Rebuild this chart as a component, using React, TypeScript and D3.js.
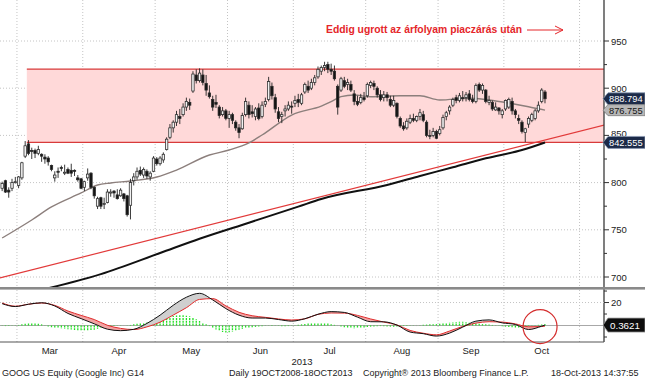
import React from "react";
import * as d3 from "d3";

const W = 645;
const H = 380;

// ---- axis / category data ----
const months = ["Mar", "Apr", "May", "Jun", "Jul", "Aug", "Sep", "Oct"];
// trading-day index of the first session of each month (last = Nov)
const monthStart = [5, 25, 47, 69, 89, 111, 133, 153, 176];
const priceTicks = [700, 750, 800, 850, 900, 950];
const priceMinorTicks = [725, 775, 825, 875, 925];
const macdTicks = [20];
const macdMinorTicks = [30, 10, 0, -10];
const yearLabel = "2013";

// ---- daily OHLC, 22-Feb-2013 .. 17-Oct-2013 ----
const opens = [794,802,792,794,801,797,805,828,841,834,834,831,830,827,826,818,805,812,816,811,814,813,813,805,804,795,805,810,795,775,784,777,779,789,791,787,786,788,786,776,802,806,813,808,812,806,812,825,820,824,835,848,858,864,870,872,880,885,897,914,908,914,905,895,888,885,880,872,876,868,872,864,858,857,872,882,875,870,879,870,883,888,902,890,875,870,876,878,881,884,888,884,896,902,900,906,912,918,922,925,920,918,902,898,908,904,904,894,886,885,890,892,903,905,900,893,890,893,888,882,884,868,860,858,864,868,866,870,872,864,850,850,854,852,858,870,876,882,890,887,890,890,894,888,886,904,898,898,885,885,877,879,872,878,880,886,876,868,864,853,862,866,868,876,886,896];
const highs = [801,803,795,804,806,807,822,844,845,837,836,839,831,830,828,819,812,816,818,819,816,820,814,808,805,802,815,811,796,785,785,784,793,793,792,793,794,789,787,804,810,816,817,816,814,812,828,827,828,832,848,862,866,876,878,884,890,889,918,920,921,920,914,903,892,893,882,880,878,876,874,866,862,874,890,886,882,880,884,886,890,912,906,894,880,875,882,886,886,892,894,895,906,908,910,914,923,924,928,928,926,924,904,912,912,910,908,898,892,894,896,906,908,908,902,898,897,896,892,892,885,870,864,868,872,873,871,878,876,866,856,858,856,860,872,876,882,890,893,895,897,896,898,893,905,906,905,899,892,887,885,880,878,888,890,890,878,872,866,858,870,874,878,886,900,898];
const lows = [791,789,784,791,799,794,803,826,829,825,826,829,822,820,818,812,801,805,812,808,809,806,807,801,793,791,802,793,783,772,772,772,778,785,784,782,785,780,764,761,797,803,807,805,804,802,811,818,818,821,834,846,853,860,862,870,876,877,895,905,906,903,892,889,876,879,868,870,866,858,862,855,847,856,870,868,869,866,866,868,880,886,888,874,864,863,870,876,873,880,880,882,894,895,898,903,910,914,918,916,914,908,872,896,900,898,896,882,881,883,886,890,900,898,890,886,886,886,880,880,868,858,855,856,862,864,864,866,864,848,846,848,846,850,856,866,872,880,884,885,886,886,886,884,884,896,894,884,882,876,876,872,868,876,878,872,868,862,852,843,858,864,866,874,884,884];
const closes = [799,790,790,800,801,806,821,839,831,833,831,835,828,825,822,814,808,811,815,811,810,810,812,803,794,801,809,795,786,783,775,778,790,790,789,783,792,783,766,800,806,812,809,814,807,810,826,820,826,830,846,858,864,872,868,880,886,882,915,908,916,906,898,891,880,883,871,876,868,872,866,858,853,871,886,872,873,878,868,882,886,907,892,878,868,872,878,882,880,887,885,893,904,898,906,911,920,922,924,920,918,910,880,910,902,906,898,886,883,890,888,904,906,902,893,888,893,890,882,887,870,860,857,865,868,866,870,874,866,850,849,854,847,856,869,874,880,888,887,892,889,893,888,886,903,898,903,886,887,878,880,876,876,887,888,876,872,866,854,857,868,872,876,882,898,888.794];

// ---- moving averages (day index, value) ----
const ma50Idx = [0, 9, 15, 24, 29, 33, 39, 47, 53, 63, 69, 75, 79, 88, 97, 100, 103, 107, 112, 121, 127, 133, 142, 148, 154, 160, 165];
const ma50 = [741.3, 760.4, 774.2, 789, 797.5, 799.6, 801.7, 805.9, 813.3, 829.2, 834.5, 842, 850.4, 871.6, 881.1, 885.7, 891, 892.8, 891, 892, 892, 887.5, 889.3, 887.5, 884.3, 880.4, 876.755];
const ma200Idx = [14, 30, 48, 60, 75, 90, 97, 117, 127, 137, 147, 158, 165];
const ma200 = [688, 703, 725.4, 740.5, 757.5, 774.5, 782.6, 797.5, 807, 816.2, 825.7, 834.5, 842.555];

// ---- drawn trendline and channel ----
const trendIdx = [-0.65, 183];
const trendVals = [699, 861];
const channelStartIdx = 8;
const channelTop = 920.3;
const channelBottom = 842.555;

// ---- MACD panel ----
const macdIdx = [0,4,8,12,16,20,24,28,32,36,40,44,48,52,56,60,64,68,72,76,80,84,88,92,96,100,104,108,112,116,120,124,128,132,136,140,144,148,152,156,160,164,165];
const macdLine = [19.0,16.5,18.5,19.8,17.0,10.5,6.0,1.5,-3.2,-4.5,-3.3,1.8,9.0,17.6,24.6,28.0,22.3,14.7,9.0,6.5,6.5,5.2,3.8,5.9,9.8,12.1,11.4,7.3,3.3,3.2,0.4,-5.7,-7.1,-9.2,-6.6,-1.4,3.8,4.9,2.3,0.9,-3.5,-0.6,0.3621];
const signalLine = [19.6,16.8,18.5,19.6,17.5,12.6,8.8,5.2,0.2,-2.5,-3.5,-1.2,2.9,9.1,15.5,22.7,23.4,17.1,11.5,8.5,7.1,5.7,4.8,5.8,9.7,10.9,10.8,8.8,5.7,3.0,0.5,-4.3,-6.7,-8.1,-4.8,-0.8,2.1,3.3,3.0,1.4,-1.1,-0.9,-0.5];
const histogram = [
  -0.3,-0.5,-0.4,-0.2,0.2,0.5,
  1.2,1.6,2.0,2.0,1.8,1.5,1.0,
  0.2,-0.8,-1.5,-2.0,-2.2,-2.5,-2.8,-3.2,
  -3.5,-3.8,-4.2,-4.4,-4.5,-4.3,-4.0,-3.6,-3.0,-2.4,
  -1.8,-1.2,-0.8,-0.5,-0.3,-0.2,0.0,0.2,0.5,
  1.0,1.5,2.0,2.4,2.8,3.0,3.4,3.8,
  4.5,5.5,6.5,7.5,8.2,8.8,9.0,9.0,8.6,8.0,7.0,5.5,4.0,
  2.5,1.0,-0.5,
  -2.0,-3.5,-4.8,-5.6,-6.0,-5.8,-5.2,-4.4,-3.6,
  -3.0,-2.4,-2.0,-1.6,-1.2,-0.9,-0.6,-0.3,
  0.2,0.4,0.3,-0.3,-0.6,-0.7,-0.5,-0.2,0.2,0.6,1.0,1.4,
  1.8,2.0,2.2,2.3,2.2,2.0,1.7,1.2,0.6,0.0,
  -0.8,-1.5,-2.0,-2.4,-2.5,-2.4,-2.2,-1.8,-1.4,
  -1.0,-0.8,-0.6,-0.5,-0.6,-0.8,-1.0,-1.0,-0.8,-0.6,-0.5,-0.4,-0.3,-0.2,0.0,0.3,0.6,
  0.8,1.0,1.0,1.2,1.5,1.8,2.2,2.6,2.9,
  3.1,3.2,3.2,3.0,2.7,2.3,1.9,1.5,
  1.2,1.0,0.8,0.5,0.2,-0.2,
  -0.6,-1.0,-1.3,-1.6,-1.8,-1.9,-1.7,-1.3,-0.8,
  -0.3,0.2,0.6,0.9,1.2,
];

// ---- last values / texts ----
const lastClose = 888.794;
const lastMa50 = 876.755;
const lastMa200 = 842.555;
const lastMacd = 0.3621;
const highlightIdx = 163.5;
const annotation = "Eddig ugrott az árfolyam piaczárás után";
const footer = [
  { text: "GOOG US Equity (Google Inc) G14", x: 2 },
  { text: "Daily 19OCT2008-18OCT2013", x: 229 },
  { text: "Copyright\u00AE 2013 Bloomberg Finance L.P.", x: 363 },
  { text: "18-Oct-2013 14:37:55", x: 551 },
];

const FONT = "'Liberation Sans', Arial, sans-serif";

export default function App() {
  const plotR = 604;
  const mainTop = 0;
  const mainBot = 288;
  const lowTop = 290;
  const lowBot = 342;

  const xs = d3.scaleLinear().domain([-0.5, 183]).range([0.5, 0.5 + 183.5 * 3.29]);
  const yP = d3.scaleLinear().domain([700, 950]).range([277, 41]);
  const yM = d3.scaleLinear().domain([-14.35, 30.9]).range([lowBot, lowTop]);

  const lineIdx = (idx: number[], vals: number[], y: d3.ScaleLinear<number, number>) =>
    d3
      .line<number>()
      .x((_, i) => xs(idx[i]))
      .y((d) => y(d))
      .curve(d3.curveMonotoneX)(vals) || "";

  const ma50Path = lineIdx(ma50Idx, ma50, yP);
  const ma200Path = lineIdx(ma200Idx, ma200, yP);
  const trendPath = d3.line<number>().x((_, i) => xs(trendIdx[i])).y((d) => yP(d))(trendVals) || "";

  const macdPath = lineIdx(macdIdx, macdLine, yM);
  const sigPath = lineIdx(macdIdx, signalLine, yM);
  const between =
    d3
      .area<number>()
      .x((_, i) => xs(macdIdx[i]))
      .y0((_, i) => yM(signalLine[i]))
      .y1((d) => yM(d))
      .curve(d3.curveMonotoneX)(macdLine) || "";
  const aboveSig =
    d3
      .area<number>()
      .x((_, i) => xs(macdIdx[i]))
      .y0(lowTop - 5)
      .y1((d) => yM(d))
      .curve(d3.curveMonotoneX)(signalLine) || "";
  const belowSig =
    d3
      .area<number>()
      .x((_, i) => xs(macdIdx[i]))
      .y0(lowBot + 5)
      .y1((d) => yM(d))
      .curve(d3.curveMonotoneX)(signalLine) || "";

  const bodyW = 2.4;
  const grid = "#c4c4c4";

  const box = (cy: number, h: number) =>
    `M603,${cy} L608,${cy - h / 2} L645,${cy - h / 2} L645,${cy + h / 2} L608,${cy + h / 2} Z`;

  return (
    <svg
      width={W}
      height={H}
      viewBox={`0 0 ${W} ${H}`}
      style={{ position: "absolute", left: 0, top: 0, background: "#fff" }}
      fontFamily={FONT}
    >
      <defs>
        <clipPath id="mainClip">
          <rect x={0} y={mainTop} width={plotR} height={mainBot - mainTop} />
        </clipPath>
        <clipPath id="lowClip">
          <rect x={0} y={lowTop} width={plotR} height={lowBot - lowTop} />
        </clipPath>
        <clipPath id="aboveSig">
          <path d={aboveSig} />
        </clipPath>
        <clipPath id="belowSig">
          <path d={belowSig} />
        </clipPath>
      </defs>
      <rect x={0} y={0} width={W} height={H} fill="#fff" />

      {/* ===== main panel ===== */}
      <g clipPath="url(#mainClip)">
        {priceTicks.map((t) => (
          <line key={"hg" + t} x1={0} x2={plotR} y1={yP(t)} y2={yP(t)} stroke={grid} strokeDasharray="1,2" />
        ))}
        {monthStart.map((m) => (
          <line key={"vg" + m} x1={xs(m - 0.5)} x2={xs(m - 0.5)} y1={mainTop} y2={mainBot} stroke={grid} strokeDasharray="1,2" />
        ))}
        {/* channel */}
        <rect
          x={xs(channelStartIdx - 0.5)}
          y={yP(channelTop)}
          width={plotR - xs(channelStartIdx - 0.5)}
          height={yP(channelBottom) - yP(channelTop)}
          fill="#ffd9d9"
        />
        <line x1={xs(channelStartIdx - 0.5)} x2={plotR} y1={yP(channelTop)} y2={yP(channelTop)} stroke="#d83a3a" strokeWidth={1.3} />
        <line x1={xs(channelStartIdx - 0.5)} x2={plotR} y1={yP(channelBottom)} y2={yP(channelBottom)} stroke="#d83a3a" strokeWidth={1.3} />
        {/* trendline & MAs */}
        <path d={trendPath} fill="none" stroke="#e23a3a" strokeWidth={1.2} />
        <path d={ma200Path} fill="none" stroke="#111" strokeWidth={2} />
        <path d={ma50Path} fill="none" stroke="#8c7f7c" strokeWidth={1.4} />
        {/* candles */}
        {closes.map((c, i) => {
          const o = opens[i];
          const up = c >= o;
          const x = xs(i);
          const top = yP(Math.max(o, c));
          const bot = yP(Math.min(o, c));
          return (
            <g key={"c" + i}>
              <line x1={x} x2={x} y1={yP(highs[i])} y2={yP(lows[i])} stroke="#222" strokeWidth={0.9} />
              <rect
                x={x - bodyW / 2}
                y={top}
                width={bodyW}
                height={Math.max(1, bot - top)}
                fill={up ? "#f2f2f2" : "#141414"}
                stroke="#2a2a2a"
                strokeWidth={0.75}
              />
            </g>
          );
        })}
      </g>

      {/* annotation */}
      <text x={326} y={33} fontSize={11} fontWeight="bold" fill="#e5262a" textLength={196} lengthAdjust="spacingAndGlyphs">
        {annotation}
      </text>
      <line x1={527} x2={563} y1={30} y2={30} stroke="#e5262a" strokeWidth={1} />
      <path d="M555,26 L563,30 L555,34" fill="none" stroke="#e5262a" strokeWidth={1} />

      {/* right axis (main) */}
      <line x1={plotR} x2={plotR} y1={0} y2={lowBot} stroke="#3a3a3a" strokeWidth={1.3} />
      {priceTicks.map((t) => (
        <g key={"pt" + t}>
          <line x1={plotR} x2={plotR + 5} y1={yP(t)} y2={yP(t)} stroke="#333" />
          <text x={611} y={yP(t) + (t === 850 ? 1.5 : 3.5)} fontSize={9.5} fill="#222">
            {t}
          </text>
        </g>
      ))}
      {priceMinorTicks.map((t) => (
        <line key={"pm" + t} x1={plotR} x2={plotR + 3} y1={yP(t)} y2={yP(t)} stroke="#333" />
      ))}

      {/* value boxes */}
      <path d={box(yP(lastClose), 12)} fill="#1c2a48" stroke="#8c9ab4" strokeWidth={0.8} />
      <text x={609} y={yP(lastClose) + 3.4} fontSize={9.3} fill="#fff">
        {lastClose.toFixed(3)}
      </text>
      <path d={box(yP(lastMa50), 11)} fill="#b7b7b7" stroke="#7d7d7d" strokeWidth={0.8} />
      <text x={609} y={yP(lastMa50) + 3.4} fontSize={9.3} fill="#151515">
        {lastMa50.toFixed(3)}
      </text>
      <path d={box(yP(lastMa200), 12)} fill="#1c2a48" stroke="#8c9ab4" strokeWidth={0.8} />
      <text x={609} y={yP(lastMa200) + 3.4} fontSize={9.3} fill="#fff">
        {lastMa200.toFixed(3)}
      </text>

      {/* panel separator */}
      <rect x={0} y={287} width={W} height={2.6} fill="#8a8a8a" />

      {/* ===== MACD panel ===== */}
      <g clipPath="url(#lowClip)">
        {monthStart.map((m) => (
          <line key={"lvg" + m} x1={xs(m - 0.5)} x2={xs(m - 0.5)} y1={lowTop} y2={lowBot} stroke={grid} strokeDasharray="1,2" />
        ))}
        {macdTicks.map((t) => (
          <line key={"lhg" + t} x1={0} x2={plotR} y1={yM(t)} y2={yM(t)} stroke={grid} strokeDasharray="1,2" />
        ))}
        <line x1={0} x2={plotR} y1={yM(0)} y2={yM(0)} stroke="#a8a8a8" strokeWidth={1} />
        {histogram.map((h, i) => (
          <line
            key={"h" + i}
            x1={xs(i)}
            x2={xs(i)}
            y1={yM(0)}
            y2={yM(h)}
            stroke="#22e022"
            strokeWidth={1.3}
            strokeDasharray="2,0.8"
          />
        ))}
        <g clipPath="url(#aboveSig)">
          <path d={between} fill="#cfcfcf" />
        </g>
        <g clipPath="url(#belowSig)">
          <path d={between} fill="#f3a3a3" />
        </g>
        <path d={sigPath} fill="none" stroke="#e02a2a" strokeWidth={1} />
        <path d={macdPath} fill="none" stroke="#111" strokeWidth={1} />
      </g>
      <line x1={0} x2={plotR} y1={lowBot} y2={lowBot} stroke="#555" strokeWidth={1} />

      {/* circle highlight */}
      <circle cx={xs(highlightIdx)} cy={yM(-1)} r={17} fill="none" stroke="#d42c2c" strokeWidth={1.2} />

      {/* MACD axis */}
      {macdTicks.map((t) => (
        <g key={"mt" + t}>
          <line x1={plotR} x2={plotR + 5} y1={yM(t)} y2={yM(t)} stroke="#333" />
          <text x={611} y={yM(t) + 3.5} fontSize={9.5} fill="#222">
            {t}
          </text>
        </g>
      ))}
      {macdMinorTicks.map((t) => (
        <line key={"mm" + t} x1={plotR} x2={plotR + 3} y1={yM(t)} y2={yM(t)} stroke="#333" />
      ))}
      <path d={box(yM(lastMacd), 14)} fill="#0d0d0d" stroke="#9a9a9a" strokeWidth={0.8} />
      <text x={610} y={yM(lastMacd) + 3.5} fontSize={9.8} fill="#fff">
        {lastMacd.toFixed(4)}
      </text>

      {/* month labels */}
      {months.map((m, i) => (
        <text
          key={m}
          x={(xs(monthStart[i] - 0.5) + xs(monthStart[i + 1] - 0.5)) / 2}
          y={353.5}
          fontSize={9.5}
          fill="#222"
          textAnchor="middle"
        >
          {m}
        </text>
      ))}
      <text x={302} y={364.5} fontSize={9.5} fill="#222" textAnchor="middle">
        {yearLabel}
      </text>

      {/* footer */}
      {footer.map((f) => (
        <text key={f.text} x={f.x} y={376} fontSize={9} fill="#222">
          {f.text}
        </text>
      ))}
    </svg>
  );
}
